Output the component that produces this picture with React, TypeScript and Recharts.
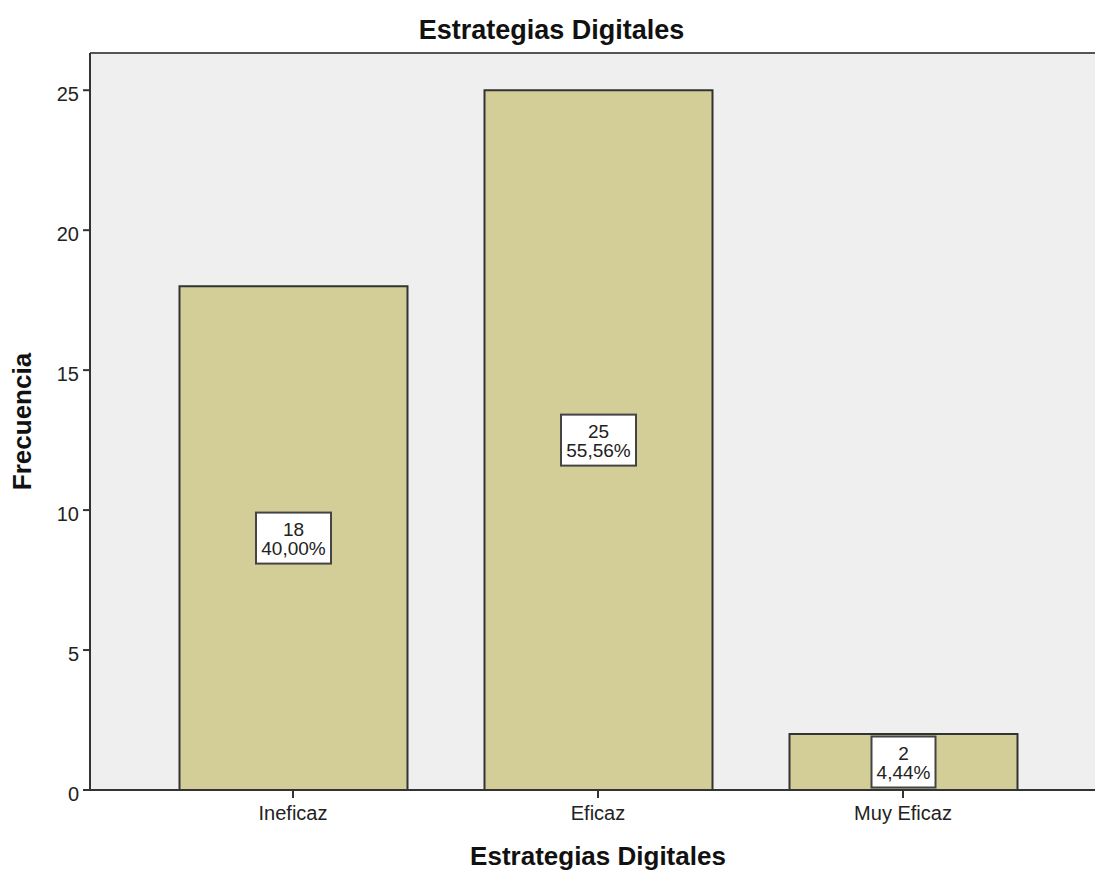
import { Bar, BarChart, CartesianGrid, LabelList, ReferenceLine, XAxis, YAxis } from "recharts";

const categories = ['Ineficaz', 'Eficaz', 'Muy Eficaz'];
const counts = [18, 25, 2];
const percents = ['40,00%', '55,56%', '4,44%'];
const yTicks = [0, 5, 10, 15, 20, 25];

const data = categories.map((name, i) => ({ name, value: counts[i], pct: percents[i] }));

const Y_MAX = 26.33;
const FONT = '"Liberation Sans", Arial, sans-serif';

const renderBoxLabel = (props: any) => {
  const { x, y, width, height, index } = props;
  const d = data[index];
  const cx = x + width / 2;
  const boxH = 51;
  const boxW = d.pct.length * 11 + 9;
  const cy = Math.min(y + height / 2, y + height - boxH / 2);
  return (
    <g>
      <rect x={cx - boxW / 2} y={cy - boxH / 2} width={boxW} height={boxH} fill="#fff" stroke="#444" strokeWidth={2} />
      <text x={cx} y={cy - 2} textAnchor="middle" fontSize={19} fill="#222" fontFamily={FONT}>{d.value}</text>
      <text x={cx} y={cy + 17} textAnchor="middle" fontSize={19} fill="#222" fontFamily={FONT}>{d.pct}</text>
    </g>
  );
};

export default function App() {
  return (
    <div style={{ position: 'absolute', left: 0, top: 0, width: 1095, height: 872, overflow: 'hidden', background: '#fff' }}>
      <div style={{ position: 'absolute', top: 16, left: 4, width: 1095, lineHeight: '28px', textAlign: 'center', fontFamily: FONT, fontWeight: 'bold', fontSize: 27, color: '#111' }}>
        Estrategias Digitales
      </div>
      <BarChart width={1110} height={872} data={data} margin={{ top: 53, right: 4, bottom: 28, left: 0 }}>
        <CartesianGrid fill="#EFEFEF" horizontal={false} vertical={false} />
        <ReferenceLine y={Y_MAX} stroke="#555" strokeWidth={2} />
        <XAxis
          dataKey="name"
          padding={{ left: 50.5, right: 50.5 }}
          height={54}
          stroke="#333"
          strokeWidth={2}
          tickSize={8}
          tick={{ fontSize: 20, fill: '#222', fontFamily: FONT, dy: 6 }}
          label={{ value: 'Estrategias Digitales', position: 'insideBottom', offset: 0, dy: 21, style: { fontSize: 26, fontWeight: 'bold', fill: '#111', fontFamily: FONT } }}
        />
        <YAxis
          width={90}
          domain={[0, Y_MAX]}
          ticks={yTicks}
          stroke="#333"
          strokeWidth={2}
          tickSize={7}
          tick={{ fontSize: 20, fill: '#222', fontFamily: FONT, dx: -2, dy: 4 }}
          label={{ value: 'Frecuencia', angle: -90, position: 'insideLeft', offset: 22, style: { fontSize: 26, fontWeight: 'bold', fill: '#111', fontFamily: FONT, textAnchor: 'middle' } }}
        />
        <Bar dataKey="value" barSize={228} fill="#D3CE97" stroke="#333" strokeWidth={2} isAnimationActive={false}>
          <LabelList dataKey="value" content={renderBoxLabel} />
        </Bar>
      </BarChart>
    </div>
  );
}
